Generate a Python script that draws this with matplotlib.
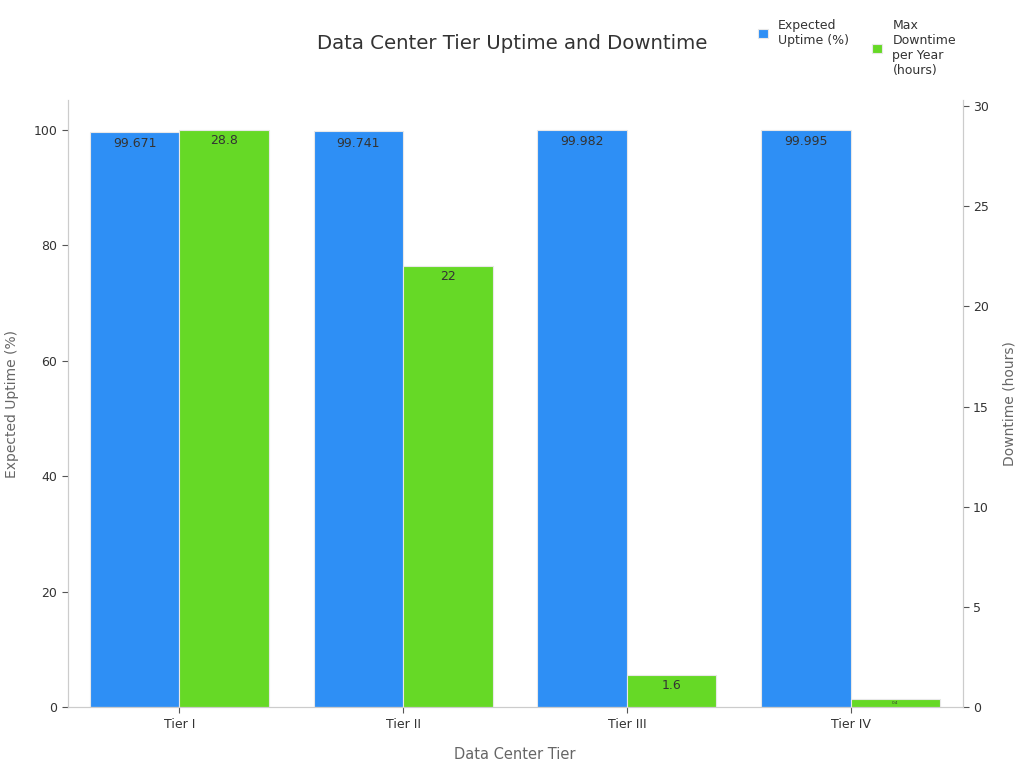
import matplotlib
matplotlib.use("Agg")
import matplotlib.pyplot as plt
import numpy as np

tiers = ["Tier I", "Tier II", "Tier III", "Tier IV"]
uptime = [99.671, 99.741, 99.982, 99.995]
downtime = [28.8, 22, 1.6, 0.4]
uptime_labels = ["99.671", "99.741", "99.982", "99.995"]
downtime_labels = ["28.8", "22", "1.6", "0.4"]

blue = "#2E8FF5"
green = "#66D926"
spine_col = "#cccccc"
text_col = "#333333"
label_col = "#666666"

fig = plt.figure(figsize=(10.24, 7.68), dpi=100)
ax = fig.add_axes([0.066, 0.079, 0.874, 0.791])
ax2 = ax.twinx()

x = np.arange(len(tiers))
w = 0.4
b1 = ax.bar(x - w / 2, uptime, w, color=blue, edgecolor="#e8e8e8", linewidth=0.8,
            label="Expected\nUptime (%)")
b2 = ax2.bar(x + w / 2, downtime, w, color=green, edgecolor="#e8e8e8", linewidth=0.8,
             label="Max\nDowntime\nper Year\n(hours)")

ax.set_xlim(-0.5, 3.5)
ax.set_ylim(0, max(uptime) * 1.052)
ax2.set_ylim(0, max(downtime) * 1.052)
ax.set_yticks([0, 20, 40, 60, 80, 100])
ax2.set_yticks([0, 5, 10, 15, 20, 25, 30])
ax.set_xticks(x)
ax.set_xticklabels(tiers)

for a in (ax, ax2):
    a.spines["top"].set_visible(False)
    for s in ("left", "right", "bottom"):
        a.spines[s].set_color(spine_col)
    a.tick_params(colors=text_col, labelsize=9, length=4)
    a.tick_params(axis="both", color="#555555")

ax.set_xlabel("Data Center Tier", color=label_col, fontsize=10.5, labelpad=12)
ax.set_ylabel("Expected Uptime (%)", color=label_col, fontsize=10, labelpad=10)
ax2.set_ylabel("Downtime (hours)", color=label_col, fontsize=10, labelpad=10)

for rect, lab in zip(b1, uptime_labels):
    ax.annotate(lab, (rect.get_x() + rect.get_width() / 2, rect.get_height()),
                xytext=(0, -4), textcoords="offset points", ha="center", va="top",
                fontsize=9, color=text_col)
for rect, lab, v in zip(b2, downtime_labels, downtime):
    fs = 9 if v > 1 else 3
    ax2.annotate(lab, (rect.get_x() + rect.get_width() / 2, rect.get_height()),
                 xytext=(0, -3 if v > 1 else -1), textcoords="offset points",
                 ha="center", va="top", fontsize=fs, color=text_col)

fig.text(0.5, 0.944, "Data Center Tier Uptime and Downtime", ha="center",
         va="center", fontsize=14.2, color=text_col)

h1, l1 = ax.get_legend_handles_labels()
h2, l2 = ax2.get_legend_handles_labels()
fig.legend(h1, l1, loc="upper left", bbox_to_anchor=(0.729, 0.99),
           frameon=False, fontsize=9, handlelength=0.8, handleheight=0.8,
           labelcolor=text_col)
fig.legend(h2, l2, loc="upper left", bbox_to_anchor=(0.841, 0.99),
           frameon=False, fontsize=9, handlelength=0.8, handleheight=0.8,
           labelcolor=text_col)

fig.savefig("out.png", dpi=100)
